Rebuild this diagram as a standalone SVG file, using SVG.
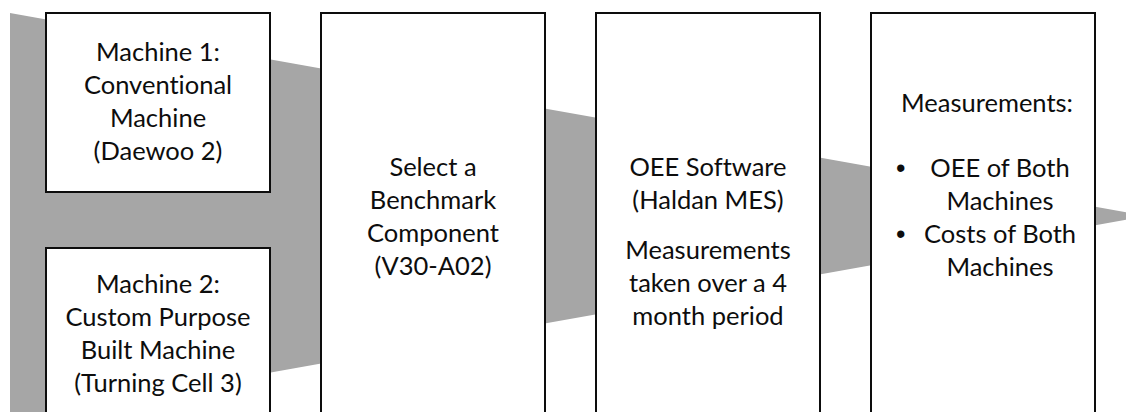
<svg xmlns="http://www.w3.org/2000/svg" width="1126" height="412" viewBox="0 0 1126 412">
<style>
.box{fill:#fff;stroke:#0d0d0d;stroke-width:2}
.t{font-family:Lato,"Liberation Sans",sans-serif;font-size:25.5px;fill:#0d0d0d;text-anchor:middle;font-variant-ligatures:none;font-feature-settings:"liga" 0}
.b{font-family:"Liberation Sans",sans-serif;font-size:27px;fill:#0d0d0d}
</style>
<rect width="1126" height="412" fill="#fff"/>
<g id="connectors">
<polygon points="10,13 1147,216 10,419" fill="#a6a6a6"/>
</g>
<g id="machine1">
<rect class="box" x="46" y="13" width="224" height="179"/>
<text class="t" x="158" y="61">Machine 1:</text>
<text class="t" x="158" y="94">Conventional</text>
<text class="t" x="158" y="127">Machine</text>
<text class="t" x="158" y="160">(Daewoo 2)</text>
</g>
<g id="machine2">
<rect class="box" x="46" y="248" width="224" height="200"/>
<text class="t" x="158" y="293">Machine 2:</text>
<text class="t" x="158" y="326">Custom Purpose</text>
<text class="t" x="158" y="359">Built Machine</text>
<text class="t" x="158" y="392">(Turning Cell 3)</text>
</g>
<g id="benchmark">
<rect class="box" x="321" y="13" width="224" height="430"/>
<text class="t" x="433" y="176">Select a</text>
<text class="t" x="433" y="209">Benchmark</text>
<text class="t" x="433" y="242">Component</text>
<text class="t" x="433" y="275">(V30-A02)</text>
</g>
<g id="software">
<rect class="box" x="596" y="13" width="224" height="430"/>
<text class="t" x="708" y="176">OEE Software</text>
<text class="t" x="708" y="209">(Haldan MES)</text>
<text class="t" x="708" y="259">Measurements</text>
<text class="t" x="708" y="292">taken over a 4</text>
<text class="t" x="708" y="325">month period</text>
</g>
<g id="measurements">
<rect class="box" x="871" y="13" width="224" height="430"/>
<text class="t" x="987" y="112">Measurements:</text>
<text class="b" x="896" y="177">•</text>
<text class="t" x="1000" y="177">OEE of Both</text>
<text class="t" x="1000" y="210">Machines</text>
<text class="b" x="896" y="243">•</text>
<text class="t" x="1000" y="243">Costs of Both</text>
<text class="t" x="1000" y="276">Machines</text>
</g>
</svg>
